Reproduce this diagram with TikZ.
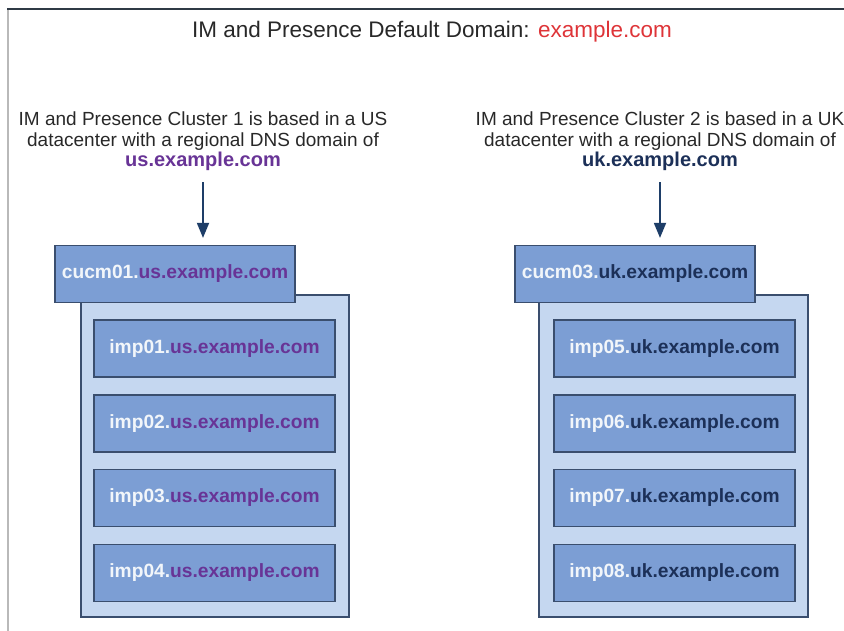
\documentclass[tikz,border=0pt]{standalone}
\usepackage{fontspec}
\setmainfont{Liberation Sans}
\usepackage{xcolor}
\usetikzlibrary{arrows.meta}

\definecolor{bleu}{RGB}{124,158,212}
\definecolor{bleuclair}{RGB}{197,215,240}
\definecolor{bordure}{RGB}{58,78,110}
\definecolor{violet}{RGB}{104,52,150}
\definecolor{marine}{RGB}{28,48,88}
\definecolor{blanc}{RGB}{242,246,250}
\definecolor{rouge}{RGB}{222,52,56}
\definecolor{texte}{RGB}{40,40,40}
\definecolor{fleche}{RGB}{30,62,104}
\definecolor{cadre}{RGB}{47,58,69}
\definecolor{gris}{RGB}{185,185,185}

\tikzset{
  legende/.style={align=center, inner sep=0pt, text=texte, font=\fontsize{19}{20.5}\selectfont},
  grappe/.style={draw=bordure, fill=bleuclair, line width=1.2pt, minimum width=268pt, minimum height=322pt},
  hote/.style={draw=bordure, fill=bleu, line width=1.2pt, minimum width=240pt, minimum height=57pt, inner sep=0pt, text=blanc, font=\bfseries\fontsize{19.2}{22}\selectfont},
  descente/.style={draw=fleche, line width=1.8pt, -{Triangle[width=12pt,length=15pt]}}
}

\begin{document}
\begin{tikzpicture}[x=1pt,y=-1pt]
        \useasboundingbox (0,0) rectangle (844,631);
        \clip (0,0) rectangle (844,631);

        % Cadre
        \draw[gris, line width=2pt] (8,9) -- (8,631);
        \draw[cadre, line width=1.6pt] (7,9) -- (844,9);

        % Titre
        \node[text=texte, font=\fontsize{22.5}{24}\selectfont] (titre) at (432,32) {IM and Presence Default Domain: \textcolor{rouge}{example.com}};

        % Cluster 1 (US)
        \node[legende, anchor=north] (txtus) at (203,112) {IM and Presence Cluster 1 is based in a US\\datacenter with a regional DNS domain of\\\textcolor{violet}{\bfseries\fontsize{20}{20.5}\selectfont us.example.com}};
        \node[grappe] (grus) at (215,456) {};
        \node[hote] (cucm01) at (175,274) {cucm01.\textcolor{violet}{us.example.com}};
        \node[hote, minimum width=241pt] (imp01) at (214.5,348.5) {imp01.\textcolor{violet}{us.example.com}};
        \node[hote, minimum width=241pt] (imp02) at (214.5,423.5) {imp02.\textcolor{violet}{us.example.com}};
        \node[hote, minimum width=241pt] (imp03) at (214.5,498) {imp03.\textcolor{violet}{us.example.com}};
        \node[hote, minimum width=241pt] (imp04) at (214.5,573) {imp04.\textcolor{violet}{us.example.com}};
        \draw[descente, shorten <=11pt, shorten >=7pt] (txtus.south) -- (txtus.south |- cucm01.north);

        % Cluster 2 (UK)
        \node[legende, anchor=north] (txtuk) at (660,112) {IM and Presence Cluster 2 is based in a UK\\datacenter with a regional DNS domain of\\\textcolor{marine}{\bfseries\fontsize{20}{20.5}\selectfont uk.example.com}};
        \node[grappe, minimum width=269pt] (gruk) at (673.5,456) {};
        \node[hote] (cucm03) at (635,274) {cucm03.\textcolor{marine}{uk.example.com}};
        \node[hote, minimum width=241pt] (imp05) at (674.5,348.5) {imp05.\textcolor{marine}{uk.example.com}};
        \node[hote, minimum width=241pt] (imp06) at (674.5,423.5) {imp06.\textcolor{marine}{uk.example.com}};
        \node[hote, minimum width=241pt] (imp07) at (674.5,498) {imp07.\textcolor{marine}{uk.example.com}};
        \node[hote, minimum width=241pt] (imp08) at (674.5,573) {imp08.\textcolor{marine}{uk.example.com}};
        \draw[descente, shorten <=11pt, shorten >=7pt] (txtuk.south) -- (txtuk.south |- cucm03.north);
    \end{tikzpicture}
\end{document}
